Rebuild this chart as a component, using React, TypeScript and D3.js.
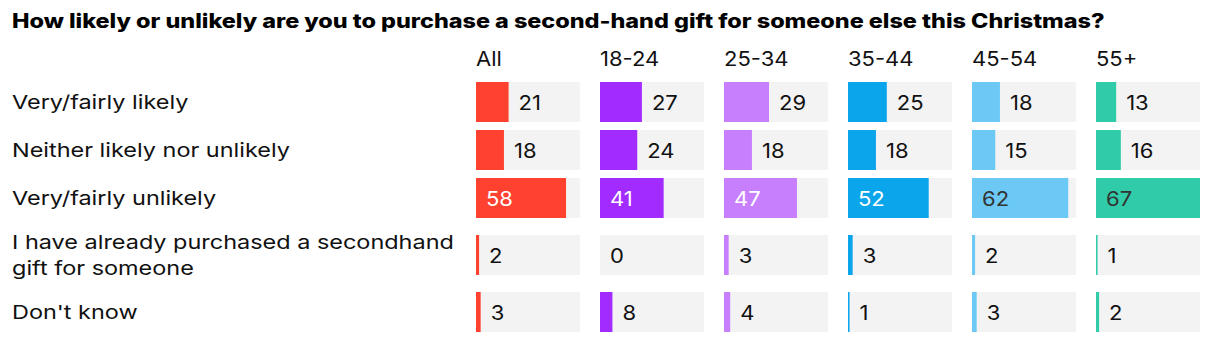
import React from "react";
import * as d3 from "d3";

const title = "How likely or unlikely are you to purchase a second-hand gift for someone else this Christmas?";
const groups = ["All", "18-24", "25-34", "35-44", "45-54", "55+"];
const categoryLines: string[][] = [
  ["Very/fairly likely"],
  ["Neither likely nor unlikely"],
  ["Very/fairly unlikely"],
  ["I have already purchased a secondhand", "gift for someone"],
  ["Don't know"],
];
const valuesAll = [21, 18, 58, 2, 3];
const values1824 = [27, 24, 41, 0, 8];
const values2534 = [29, 18, 47, 3, 4];
const values3544 = [25, 18, 52, 3, 1];
const values4554 = [18, 15, 62, 2, 3];
const values55 = [13, 16, 67, 1, 2];
const seriesValues = [valuesAll, values1824, values2534, values3544, values4554, values55];
const colors = ["#ff4130", "#a22bff", "#c77ffd", "#0aa5ea", "#6cc9f6", "#30cba9"];
const insideTextColors = ["#ffffff", "#ffffff", "#ffffff", "#ffffff", "#333333", "#333333"];

const W = 1220;
const H = 342;
const FONT = "Inter, 'Noto Sans', sans-serif";
const TITLE_STRETCH = 1.2;
const LABEL_STRETCH = 1.235;
const NUM_STRETCH = 1.1;

export default function App() {
  const maxVal = d3.max(seriesValues.flat()) as number;
  const band = d3
    .scaleBand<string>()
    .domain(groups)
    .range([476, 1200])
    .paddingInner(20 / 124)
    .paddingOuter(0);
  const bw = band.bandwidth();
  const x = d3.scaleLinear().domain([0, maxVal]).range([0, bw]);

  const barH = 40;
  const gap = 8;
  const slotH = categoryLines.map((l) => (l.length > 1 ? 58 : barH));
  const slotTop: number[] = [];
  let acc = 82;
  slotH.forEach((h) => {
    slotTop.push(acc);
    acc += h + gap;
  });

  return (
    <svg
      width={W}
      height={H}
      style={{ position: "absolute", left: 0, top: 0, background: "#fff" }}
      fontFamily={FONT}
    >
      <text
        transform={`translate(12,28) scale(${TITLE_STRETCH},1)`}
        fontSize={19.5}
        fontWeight={800}
        fill="#000"
      >
        {title}
      </text>
      {groups.map((g) => (
        <text
          key={g}
          transform={`translate(${band(g)},66) scale(${NUM_STRETCH},1)`}
          fontSize={20}
          fill="#111"
        >
          {g}
        </text>
      ))}
      {categoryLines.map((lines, ri) => {
        const cy = slotTop[ri] + slotH[ri] / 2;
        const lh = 26;
        return (
          <g key={ri}>
            {lines.map((ln, li) => (
              <text
                key={li}
                transform={`translate(12,${cy + 7 + (li - (lines.length - 1) / 2) * lh}) scale(${LABEL_STRETCH},1)`}
                fontSize={19}
                fill="#111"
              >
                {ln}
              </text>
            ))}
            {groups.map((g, gi) => {
              const v = seriesValues[gi][ri];
              const x0 = band(g) as number;
              const by = cy - barH / 2;
              const w = x(v);
              const inside = w > 55;
              const tx = inside ? x0 + 10 : x0 + w + 10;
              return (
                <g key={g}>
                  <rect x={x0} y={by} width={bw} height={barH} fill="#f3f3f3" />
                  <rect x={x0} y={by} width={w} height={barH} fill={colors[gi]} />
                  <text
                    transform={`translate(${tx},${cy + 7.5}) scale(${NUM_STRETCH},1)`}
                    fontSize={20}
                    fill={inside ? insideTextColors[gi] : "#111"}
                  >
                    {v}
                  </text>
                </g>
              );
            })}
          </g>
        );
      })}
    </svg>
  );
}
